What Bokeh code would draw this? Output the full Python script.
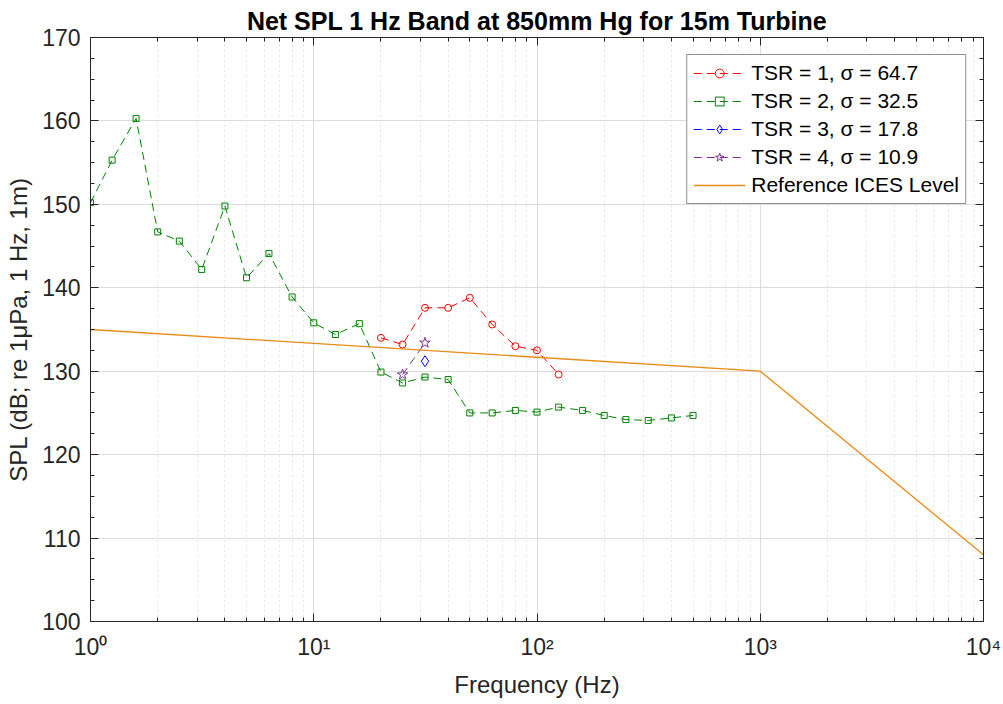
from bokeh.plotting import figure
from bokeh.models import (LogAxis, LinearAxis, Legend, LegendItem, Range1d, FixedTicker, LogTicker, Title)
from bokeh.embed import file_html
from bokeh.resources import INLINE

# ---- data ----
freq_tsr1 = [20, 25, 31.5, 40, 50, 63, 80, 100, 125]
spl_tsr1 = [134.0, 133.2, 137.6, 137.6, 138.8, 135.6, 133.0, 132.5, 129.6]

freq_tsr2 = [1, 1.25, 1.6, 2, 2.5, 3.15, 4, 5, 6.3, 8, 10, 12.5, 16, 20, 25, 31.5,
             40, 50, 63, 80, 100, 125, 160, 200, 250, 315, 400, 500]
spl_tsr2 = [150.2, 155.3, 160.3, 146.7, 145.6, 142.2, 149.8, 141.2, 144.1, 138.9,
            135.8, 134.4, 135.7, 129.9, 128.6, 129.3, 129.0, 125.0, 125.0, 125.3,
            125.1, 125.7, 125.3, 124.7, 124.2, 124.1, 124.4, 124.7]

freq_tsr3 = [31.5]
spl_tsr3 = [131.2]

freq_tsr4 = [25, 31.5]
spl_tsr4 = [129.6, 133.4]

freq_ref = [1, 1000, 10000]
spl_ref = [135.0, 130.0, 108.0]

labels = ["TSR = 1, \u03c3 = 64.7", "TSR = 2, \u03c3 = 32.5", "TSR = 3, \u03c3 = 17.8",
          "TSR = 4, \u03c3 = 10.9", "Reference ICES Level"]
x_ticks = [1, 10, 100, 1000, 10000]
x_tick_labels = ["10\u2070", "10\u00b9", "10\u00b2", "10\u00b3", "10\u2074"]
y_ticks = [100, 110, 120, 130, 140, 150, 160, 170]

FONT = "Liberation Sans"
TXT = "#262626"

p = figure(width=1003, height=704, x_axis_type="log", output_backend="svg",
           toolbar_location=None, x_range=Range1d(1, 10000), y_range=Range1d(100, 170),
           min_border_left=90, min_border_right=20, min_border_top=37, min_border_bottom=83)
p.title = Title(text="Net SPL 1 Hz Band at 850mm Hg for 15m Turbine", align="center",
                text_font=FONT, text_font_size="25px", text_font_style="bold",
                text_color="#000000", standoff=5)
p.outline_line_color = TXT
p.background_fill_color = "white"
p.border_fill_color = "white"

# axes
for ax in [p.xaxis[0], p.yaxis[0]]:
    ax.major_label_text_font = FONT
    ax.major_label_text_font_size = "23px"
    ax.major_label_text_color = TXT
    ax.axis_label_text_font = FONT
    ax.axis_label_text_font_size = "24px"
    ax.axis_label_text_font_style = "normal"
    ax.axis_label_text_color = TXT
    ax.axis_line_color = TXT
    ax.major_tick_line_color = TXT
    ax.minor_tick_line_color = TXT
    ax.major_tick_in = 8
    ax.major_tick_out = 0
    ax.minor_tick_in = 4
    ax.minor_tick_out = 0

p.xaxis.axis_label = "Frequency (Hz)"
p.yaxis.axis_label = "SPL (dB; re 1\u03bcPa, 1 Hz, 1m)"
p.xaxis.ticker = LogTicker(num_minor_ticks=10)
p.xaxis.major_label_overrides = {t: l for t, l in zip(x_ticks, x_tick_labels)}
p.xaxis.major_label_standoff = 12
p.yaxis.ticker = FixedTicker(ticks=y_ticks, minor_ticks=[100 + 2.5 * i for i in range(29)])
p.yaxis.major_label_standoff = 10
p.xaxis.axis_label_standoff = 8
p.yaxis.axis_label_standoff = 7

# top/right box axes (ticks only)
top = LogAxis(ticker=LogTicker(num_minor_ticks=10), major_label_text_font_size="2px",
              major_label_text_alpha=0,
              axis_line_color=TXT, major_tick_line_color=TXT, minor_tick_line_color=TXT,
              major_tick_in=8, major_tick_out=0, minor_tick_in=4, minor_tick_out=0,
              major_label_standoff=0)
right = LinearAxis(ticker=FixedTicker(ticks=y_ticks, minor_ticks=[100 + 2.5 * i for i in range(29)]),
                   major_label_text_font_size="2px", major_label_text_alpha=0,
                   axis_line_color=TXT, major_tick_line_color=TXT, minor_tick_line_color=TXT,
                   major_tick_in=8, major_tick_out=0, minor_tick_in=4, minor_tick_out=0,
                   major_label_standoff=0)
p.add_layout(top, "above")
p.add_layout(right, "right")

# grids
p.xgrid.grid_line_color = "#dcdcdc"
p.ygrid.grid_line_color = "#dcdcdc"
p.xgrid.minor_grid_line_color = "#cccccc"
p.xgrid.minor_grid_line_dash = "1 4"
p.ygrid.ticker = FixedTicker(ticks=y_ticks)

DASH = "8 5"
r1l = p.line(freq_tsr1, spl_tsr1, line_color="#ff0000", line_dash=DASH, line_width=1)
r1m = p.scatter(freq_tsr1, spl_tsr1, marker="circle", size=7, line_color="#ff0000",
                fill_color=None, line_width=1)
r2l = p.line(freq_tsr2, spl_tsr2, line_color="#008000", line_dash=DASH, line_width=1)
r2m = p.scatter(freq_tsr2, spl_tsr2, marker="square", size=6, line_color="#008000",
                fill_color=None, line_width=1)
r3m = p.scatter(freq_tsr3, spl_tsr3, marker="diamond", size=11, line_color="#0000ff",
                fill_color=None, line_width=1)
r4l = p.line(freq_tsr4, spl_tsr4, line_color="#7e2f8e", line_dash=DASH, line_width=1)
r4m = p.scatter(freq_tsr4, spl_tsr4, marker="star", size=11, line_color="#7e2f8e",
                fill_color=None, line_width=1)
rref = p.line(freq_ref, spl_ref, line_color="#ec8a14", line_width=1.3)
# legend-only dashed line for TSR 3 (single point series has no visible segment)
r3l = p.line(freq_tsr3 + freq_tsr3, spl_tsr3 + spl_tsr3, line_color="#0000ff",
             line_dash=DASH, line_width=1)

legend = Legend(items=[
    LegendItem(label=labels[0], renderers=[r1l, r1m]),
    LegendItem(label=labels[1], renderers=[r2l, r2m]),
    LegendItem(label=labels[2], renderers=[r3l, r3m]),
    LegendItem(label=labels[3], renderers=[r4l, r4m]),
    LegendItem(label=labels[4], renderers=[rref]),
], location="top_right")
legend.margin = 17
legend.padding = 6
legend.spacing = 4
legend.glyph_width = 52
legend.glyph_height = 22
legend.label_height = 22
legend.label_standoff = 6
legend.label_text_font = FONT
legend.label_text_font_size = "21px"
legend.label_text_color = "#000000"
legend.border_line_color = "#262626"
legend.border_line_width = 1
legend.background_fill_alpha = 1
p.add_layout(legend, "center")

open("out.html", "w").write(file_html(p, INLINE))
